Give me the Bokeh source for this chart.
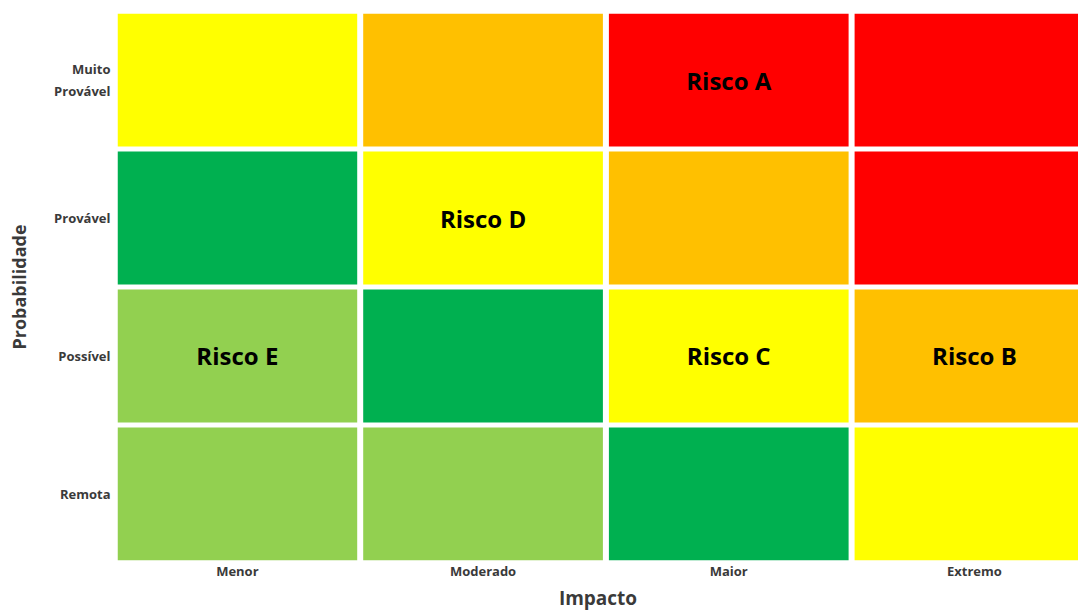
from bokeh.plotting import figure
from bokeh.models import ColumnDataSource, Range1d, FixedTicker
from bokeh.core.properties import value
from bokeh.embed import file_html
from bokeh.resources import INLINE

# ---- data ----
impacts = ["Menor", "Moderado", "Maior", "Extremo"]
probabilities = ["Remota", "Possível", "Provável", "Muito Provável"]  # bottom -> top
prob_tick_labels = ["Remota", "Possível", "Provável", "Muito\nProvável"]
cell_colors = [
    ["#92D050", "#92D050", "#00B050", "#FFFF00"],  # Remota
    ["#92D050", "#00B050", "#FFFF00", "#FFC000"],  # Possível
    ["#00B050", "#FFFF00", "#FFC000", "#FF0000"],  # Provável
    ["#FFFF00", "#FFC000", "#FF0000", "#FF0000"],  # Muito Provável
]
risk_names = ["Risco A", "Risco B", "Risco C", "Risco D", "Risco E"]
risk_impact = ["Maior", "Extremo", "Maior", "Moderado", "Menor"]
risk_prob = ["Muito Provável", "Possível", "Possível", "Provável", "Possível"]
x_title = "Impacto"
y_title = "Probabilidade"

# ---- build sources ----
gx, gy = 0.0244, 0.036
xs, ys, cs = [], [], []
for r, prob in enumerate(probabilities):
    for c, imp in enumerate(impacts):
        xs.append(c + 0.5)
        ys.append(r + 0.5)
        cs.append(cell_colors[r][c])
cells = ColumnDataSource(dict(x=xs, y=ys, color=cs))

labels = ColumnDataSource(dict(
    x=[impacts.index(i) + 0.5 for i in risk_impact],
    y=[probabilities.index(p) + 0.5 for p in risk_prob],
    text=risk_names,
))

x0 = gx / 2
p = figure(width=1078, height=613, output_backend="svg", toolbar_location=None,
           x_range=Range1d(x0, x0 + 961 / 245.7),
           y_range=Range1d(gy / 2, 4 - gy / 2),
           min_border_left=117, min_border_right=0, min_border_top=13,
           min_border_bottom=53)

p.rect(x="x", y="y", width=1 - gx, height=1 - gy, fill_color="color",
       line_color=None, source=cells)
p.text(x="x", y="y", text="text", source=labels,
       text_font=value("Open Sans"), text_font_style="bold",
       text_font_size="24px", text_align="center", text_baseline="middle",
       text_color="#000000")

p.xaxis.ticker = FixedTicker(ticks=[i + 0.5 for i in range(len(impacts))])
p.xaxis.major_label_overrides = {i + 0.5: lab for i, lab in enumerate(impacts)}
p.yaxis.ticker = FixedTicker(ticks=[i + 0.5 for i in range(len(probabilities))])
p.yaxis.major_label_overrides = {i + 0.5: lab for i, lab in enumerate(prob_tick_labels)}

for ax in (p.xaxis, p.yaxis):
    ax.axis_line_color = None
    ax.major_tick_line_color = None
    ax.minor_tick_line_color = None
    ax.major_tick_out = 0
    ax.major_tick_in = 0
    ax.major_label_text_font = "Open Sans"
    ax.major_label_text_font_style = "bold"
    ax.major_label_text_font_size = "13px"
    ax.major_label_text_color = "#3a3a3a"
    ax.axis_label_text_font = "Open Sans"
    ax.axis_label_text_font_style = "bold"
    ax.axis_label_text_color = "#3a3a3a"

p.xaxis.axis_label = x_title
p.yaxis.axis_label = y_title
p.xaxis.axis_label_text_font_size = "19px"
p.yaxis.axis_label_text_font_size = "18px"
p.xaxis.major_label_standoff = 1
p.yaxis.major_label_standoff = 7
p.xaxis.axis_label_standoff = 2
p.yaxis.axis_label_standoff = 20

p.xgrid.grid_line_color = None
p.ygrid.grid_line_color = None
p.outline_line_color = None
p.background_fill_color = "white"
p.border_fill_color = "white"

open("out.html", "w").write(file_html(p, INLINE))
